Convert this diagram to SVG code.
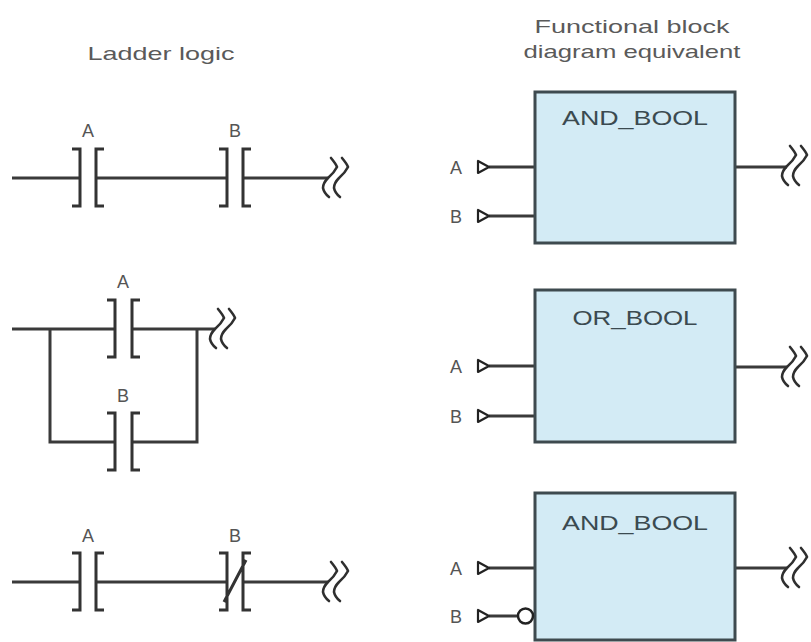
<svg xmlns="http://www.w3.org/2000/svg" width="811" height="642" viewBox="0 0 811 642">
<defs>
<style>
.t{font-family:"Liberation Sans",Arial,sans-serif;fill:#5a5a5a;}
.title{font-size:19px;text-anchor:middle;}
.lbl{font-size:18px;text-anchor:middle;fill:#555;}
.blk{fill:#d3ebf5;stroke:#3e4a4f;stroke-width:3;}
.btxt{font-family:"Liberation Sans",Arial,sans-serif;font-size:21px;fill:#3b4a50;text-anchor:middle;}
.w{fill:none;stroke:#3a3a3a;stroke-width:3;}
.ct{fill:none;stroke:#333;stroke-width:3;}
.pin{fill:#fff;stroke:#222;stroke-width:2.2;stroke-linejoin:round;}
.sq{fill:none;stroke:#2f2f2f;stroke-width:2.6;stroke-linecap:round;stroke-linejoin:round;}
</style>
<g id="brk">
<path class="sq" d="M3,-20 Q8,-14 9,-11 Q6,-5 0,0 Q-5,5 -5,10 Q-4,15 1,19"/>
<path class="sq" d="M14,-20 Q19,-14 20,-11 Q17,-5 11,0 Q6,5 6,10 Q7,15 12,19"/>
</g>
</defs>
<rect width="811" height="642" fill="#fff"/>

<g id="titles">
<text class="t title" x="161" y="60" textLength="147" lengthAdjust="spacingAndGlyphs">Ladder logic</text>
<text class="t title" x="632" y="33" textLength="195" lengthAdjust="spacingAndGlyphs">Functional block</text>
<text class="t title" x="632" y="58" textLength="217" lengthAdjust="spacingAndGlyphs">diagram equivalent</text>
</g>

<g id="connectors">
<path class="w" d="M12,178 H80 M96,178 H227 M243,178 H328"/>
<path class="w" d="M12,329 H115 M132,329 H215 M50,329 V442 H115 M132,442 H197 V329"/>
<path class="w" d="M12,582 H80 M96,582 H227 M243,582 H328"/>
<path class="w" d="M489,167 H535 M489,216 H535 M735,167 H787"/>
<path class="w" d="M489,366 H535 M489,416 H535 M735,367 H787"/>
<path class="w" d="M489,568 H535 M489,616 H518 M735,568 H787"/>
</g>

<g id="rung1-A">
<text class="t lbl" x="88" y="137">A</text>
<path class="ct" d="M72,149 H80 V206 H72 M104,149 H96 V206 H104"/>
</g>
<g id="rung1-B">
<text class="t lbl" x="235" y="137">B</text>
<path class="ct" d="M219,149 H227 V206 H219 M251,149 H243 V206 H251"/>
</g>
<g id="rung1-out"><use href="#brk" x="328" y="178"/></g>

<g id="rung2-A">
<text class="t lbl" x="123" y="288">A</text>
<path class="ct" d="M107,300 H115 V357 H107 M140,300 H132 V357 H140"/>
</g>
<g id="rung2-B">
<text class="t lbl" x="123" y="402">B</text>
<path class="ct" d="M107,413 H115 V470 H107 M140,413 H132 V470 H140"/>
</g>
<g id="rung2-out"><use href="#brk" x="215" y="329"/></g>

<g id="rung3-A">
<text class="t lbl" x="88" y="542">A</text>
<path class="ct" d="M72,553 H80 V610 H72 M104,553 H96 V610 H104"/>
</g>
<g id="rung3-B">
<text class="t lbl" x="235" y="542">B</text>
<path class="ct" d="M219,553 H227 V610 H219 M251,553 H243 V610 H251 M224,602 L246,560"/>
</g>
<g id="rung3-out"><use href="#brk" x="328" y="582"/></g>

<g id="fbd-and1">
<rect class="blk" x="535" y="92" width="200" height="151"/>
<text class="btxt" x="635" y="125" textLength="146" lengthAdjust="spacingAndGlyphs">AND_BOOL</text>
<text class="t lbl" x="456" y="174">A</text>
<path class="pin" d="M478,161 V173 L489,167 Z"/>
<text class="t lbl" x="456" y="223">B</text>
<path class="pin" d="M478,210 V222 L489,216 Z"/>
<use href="#brk" x="787" y="166"/>
</g>

<g id="fbd-or">
<rect class="blk" x="535" y="290" width="200" height="152"/>
<text class="btxt" x="635" y="325" textLength="125" lengthAdjust="spacingAndGlyphs">OR_BOOL</text>
<text class="t lbl" x="456" y="373">A</text>
<path class="pin" d="M478,360 V372 L489,366 Z"/>
<text class="t lbl" x="456" y="423">B</text>
<path class="pin" d="M478,410 V422 L489,416 Z"/>
<use href="#brk" x="787" y="367"/>
</g>

<g id="fbd-and2">
<rect class="blk" x="535" y="493" width="200" height="147"/>
<text class="btxt" x="635" y="530" textLength="146" lengthAdjust="spacingAndGlyphs">AND_BOOL</text>
<text class="t lbl" x="456" y="575">A</text>
<path class="pin" d="M478,562 V574 L489,568 Z"/>
<text class="t lbl" x="456" y="623">B</text>
<path class="pin" d="M478,610 V622 L489,616 Z"/>
<circle cx="525.5" cy="616" r="7.5" fill="#fff" stroke="#222" stroke-width="2.5"/>
<use href="#brk" x="787" y="568"/>
</g>
</svg>
